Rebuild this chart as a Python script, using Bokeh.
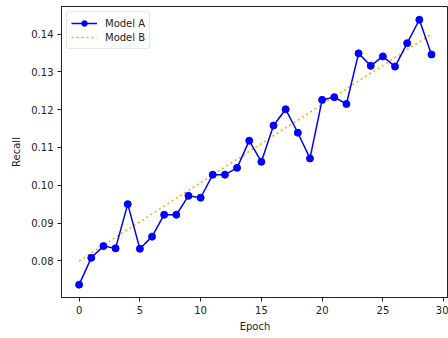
from bokeh.plotting import figure
from bokeh.models import FixedTicker, PrintfTickFormatter, Range1d, Legend, LegendItem
from bokeh.embed import file_html
from bokeh.resources import INLINE

epochs = list(range(30))
model_a = [0.0737, 0.0808, 0.0839, 0.0833, 0.0950, 0.0832, 0.0864, 0.0922, 0.0922, 0.0972,
           0.0967, 0.1028, 0.1028, 0.1046, 0.1118, 0.1062, 0.1158, 0.1201, 0.1139, 0.1071,
           0.1226, 0.1233, 0.1215, 0.1349, 0.1316, 0.1341, 0.1314, 0.1376, 0.1438, 0.1346]
model_b = [0.0800, 0.0821, 0.0841, 0.0862, 0.0883, 0.0903, 0.0924, 0.0945, 0.0966, 0.0986,
           0.1007, 0.1028, 0.1048, 0.1069, 0.1090, 0.1110, 0.1131, 0.1152, 0.1172, 0.1193,
           0.1214, 0.1234, 0.1255, 0.1276, 0.1297, 0.1317, 0.1338, 0.1359, 0.1379, 0.1400]
x_ticks = [0, 5, 10, 15, 20, 25, 30]
y_ticks = [0.08, 0.09, 0.10, 0.11, 0.12, 0.13, 0.14]

FONT = "DejaVu Sans"

p = figure(width=448, height=338, output_backend="svg", toolbar_location=None,
           x_range=Range1d(-1.45, 30.4), y_range=Range1d(0.0703, 0.1473),
           min_border_left=61, min_border_right=0, min_border_top=6, min_border_bottom=41)

p.xgrid.visible = False
p.ygrid.visible = False
p.outline_line_color = "#222222"
p.outline_line_width = 1
p.background_fill_color = "white"
p.border_fill_color = "white"

lb = p.line(epochs, model_b, line_color="orange", line_width=1.5, line_dash="2 3")
la = p.line(epochs, model_a, line_color="blue", line_width=1.5)
ca = p.scatter(epochs, model_a, size=7, fill_color="blue", line_color="blue")

for ax in (p.xaxis[0], p.yaxis[0]):
    ax.axis_line_color = "#222222"
    ax.major_tick_line_color = "#222222"
    ax.major_tick_out = 4
    ax.major_tick_in = 0
    ax.minor_tick_line_color = None
    ax.major_label_text_font = FONT
    ax.major_label_text_font_size = "10px"
    ax.major_label_text_color = "#222222"
    ax.axis_label_text_font = FONT
    ax.axis_label_text_font_size = "10px"
    ax.axis_label_text_font_style = "normal"
    ax.axis_label_text_color = "#222222"

p.xaxis.ticker = FixedTicker(ticks=x_ticks)
p.yaxis.ticker = FixedTicker(ticks=y_ticks)
p.yaxis.formatter = PrintfTickFormatter(format="%.2f")
p.xaxis.axis_label = "Epoch"
p.yaxis.axis_label = "Recall"
p.xaxis.axis_label_standoff = 4
p.yaxis.axis_label_standoff = 6
p.xaxis.major_label_standoff = 4
p.yaxis.major_label_standoff = 4

legend = Legend(items=[LegendItem(label="Model A", renderers=[la, ca]),
                       LegendItem(label="Model B", renderers=[lb])],
                location="top_left")
legend.label_text_font = FONT
legend.label_text_font_size = "10px"
legend.label_text_color = "#222222"
legend.border_line_color = "#cccccc"
legend.border_line_width = 1
legend.border_radius = 3
legend.margin = 5
legend.padding = 4
legend.spacing = 0
legend.glyph_width = 26
legend.glyph_height = 14
legend.label_height = 14
legend.label_standoff = 8
p.add_layout(legend)

open("out.html", "w").write(file_html(p, INLINE))
